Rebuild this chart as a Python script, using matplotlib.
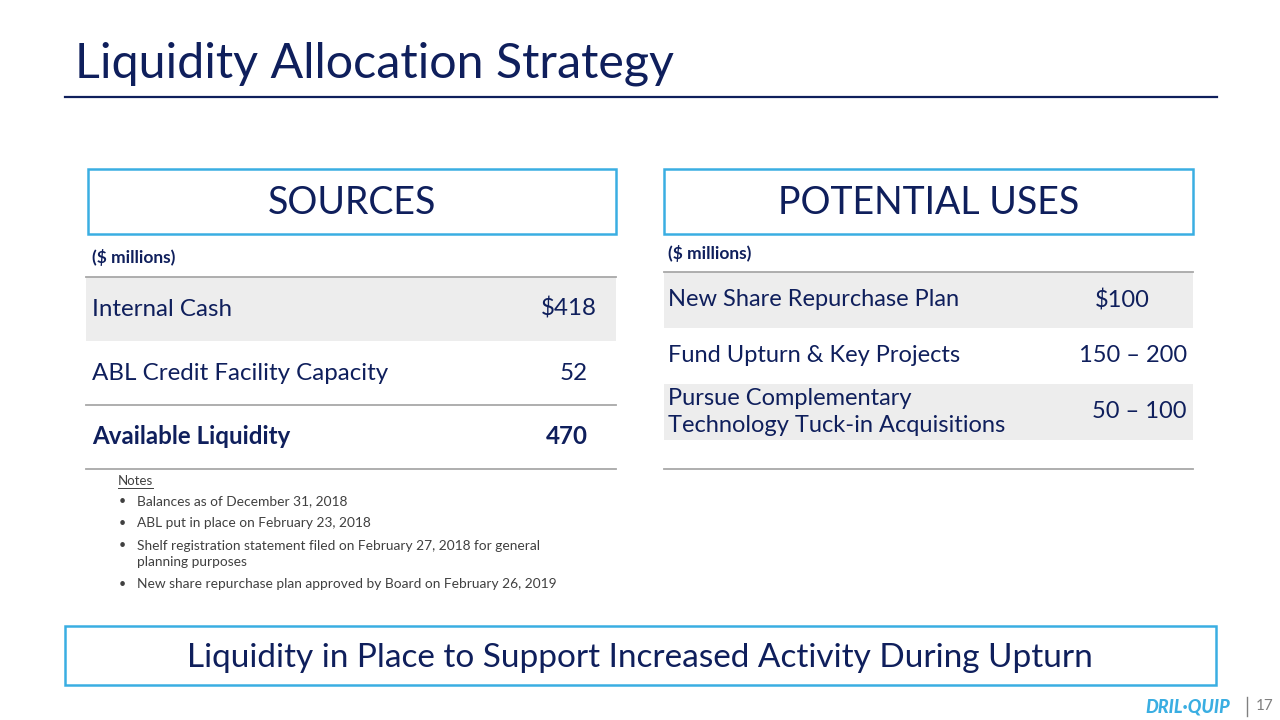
#!/usr/bin/env python3
"""Liquidity Allocation Strategy slide, redrawn with matplotlib."""

import matplotlib
matplotlib.use('Agg')
import matplotlib.pyplot as plt
from matplotlib.patches import Rectangle

NAVY = '#0F1F5C'
SKY = '#3AAEE2'
RULE = '#A8A8A8'
SHADE = '#EDEDED'
NOTE = '#404040'

plt.rcParams['font.family'] = ['Lato', 'DejaVu Sans']

# Data
title = 'Liquidity Allocation Strategy'
units = '($ millions)'

source_labels = ['Internal Cash', 'ABL Credit Facility Capacity', 'Available Liquidity']
source_values = ['$418', '52', '470']

use_labels = ['New Share Repurchase Plan', 'Fund Upturn & Key Projects',
              'Pursue Complementary\nTechnology Tuck-in Acquisitions']
use_values = ['$100', '150 – 200', '50 – 100']

notes = [
    'Balances as of December 31, 2018',
    'ABL put in place on February 23, 2018',
    'Shelf registration statement filed on February 27, 2018 for general\nplanning purposes',
    'New share repurchase plan approved by Board on February 26, 2019',
]
banner = 'Liquidity in Place to Support Increased Activity During Upturn'
page = '17'

# Canvas in pixel units
fig = plt.figure(figsize=(12.8, 7.2), dpi=100)
ax = fig.add_axes([0, 0, 1, 1])
ax.set_xlim(0, 1280)
ax.set_ylim(720, 0)
ax.axis('off')

# Title + rule
ax.text(75, 64, title, fontsize=34.8, color=NAVY, va='center', ha='left')
ax.plot([65, 1217], [97, 97], color=NAVY, lw=1.6)

def header_box(x0, x1, label):
    ax.add_patch(Rectangle((x0, 169), x1 - x0, 65, fill=False,
                           edgecolor=SKY, lw=1.8))
    ax.text((x0 + x1) / 2, 203, label, fontsize=27, color=NAVY,
            ha='center', va='center')

header_box(88, 616, 'SOURCES')
header_box(664, 1193, 'POTENTIAL USES')

# Sources table
ax.text(92, 258, units, fontsize=12.5, fontweight='bold', color=NAVY, va='center')
row_top = 277
row_h = 64
for i, (lab, val) in enumerate(zip(source_labels, source_values)):
    y0 = row_top + i * row_h
    if i == 0:
        ax.add_patch(Rectangle((86, y0), 530, row_h, color=SHADE, lw=0))
    bold = 'bold' if i == len(source_labels) - 1 else 'normal'
    ax.text(92, y0 + row_h / 2, lab, fontsize=17.4, color=NAVY,
            fontweight=bold, va='center')
    xr = 597 if val.startswith('$') else 588
    ax.text(xr, y0 + row_h / 2, val, fontsize=17.4, color=NAVY,
            fontweight=bold, va='center', ha='right')
for y in [277, 405, 469]:
    ax.plot([86, 616], [y, y], color=RULE, lw=1.3)

# Uses table
ax.text(668, 254, units, fontsize=12.5, fontweight='bold', color=NAVY, va='center')
u_top = 272
u_h = 56
for i, (lab, val) in enumerate(zip(use_labels, use_values)):
    y0 = u_top + i * u_h
    if i % 2 == 0:
        ax.add_patch(Rectangle((664, y0), 529, u_h, color=SHADE, lw=0))
    ax.text(668, y0 + u_h / 2, lab, fontsize=17, color=NAVY, va='center',
            linespacing=1.3)
    xr = 1150 if val.startswith('$') else 1187
    ax.text(xr, y0 + u_h / 2, val, fontsize=17, color=NAVY,
            va='center', ha='right')
ax.plot([664, 1193], [272, 272], color=RULE, lw=1.3)
ax.plot([664, 1193], [469, 469], color=RULE, lw=1.3)

# Notes
ax.text(118, 481, 'Notes', fontsize=9.5, color=NOTE, va='center')
ax.plot([118, 153], [488, 488], color=NOTE, lw=0.7)
note_y = [501, 523, 554, 584]
for y, txt in zip(note_y, notes):
    ax.text(119, y if '\n' not in txt else 545, '•', fontsize=9, color=NOTE,
            va='center')
    ax.text(137, y, txt, fontsize=9.9, color=NOTE, va='center', linespacing=1.4)

# Banner
ax.add_patch(Rectangle((65, 626), 1151, 59, fill=False, edgecolor=SKY, lw=1.8))
ax.text(640, 658, banner, fontsize=24, color=NAVY, ha='center', va='center')

# Footer logo + page number
ax.text(1230, 707, 'DRIL·QUIP', fontsize=13, color=SKY, fontweight='black',
        style='italic', ha='right', va='center')
ax.plot([1247, 1247], [697, 716], color='#808080', lw=1)
ax.text(1256, 706, page, fontsize=11, color='#808080', va='center')

fig.savefig('out.png', dpi=100)
plt.close(fig)
